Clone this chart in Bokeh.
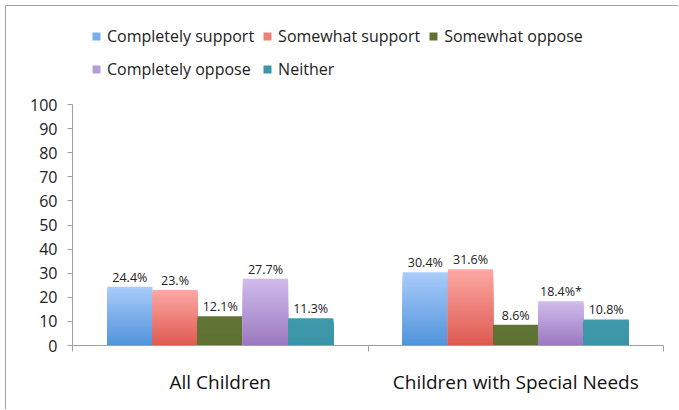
from bokeh.plotting import figure
from bokeh.models import ColumnDataSource, Legend, LegendItem, FixedTicker, Range1d, LabelSet
from bokeh.core.properties import value
from bokeh.embed import file_html
from bokeh.resources import INLINE

categories = ["All Children", "Children with Special Needs"]
series = ["Completely support", "Somewhat support", "Somewhat oppose", "Completely oppose", "Neither"]
completely_support = [24.4, 30.4]
somewhat_support = [23.0, 31.6]
somewhat_oppose = [12.1, 8.6]
completely_oppose = [27.7, 18.4]
neither = [11.3, 10.8]
labels_all = ["24.4%", "23.%", "12.1%", "27.7%", "11.3%"]
labels_special = ["30.4%", "31.6%", "8.6%", "18.4%*", "10.8%"]
y_ticks = list(range(0, 101, 10))

values = [completely_support, somewhat_support, somewhat_oppose, completely_oppose, neither]
# (top colour, bottom colour, legend colour)
colors = [
    ("#A9CCFB", "#5193DA", "#7BAEEB"),
    ("#FCA8A4", "#DE5A50", "#EE8078"),
    ("#627535", "#5E7132", "#5F7233"),
    ("#D0BCEC", "#9A79BF", "#B59CD8"),
    ("#3E9AAB", "#3A95A6", "#3B97A8"),
]

FONT = "Open Sans"
FIG_W, FIG_H = 673, 404
BORDER_BOTTOM = 65
AXIS_PX = 241  # pixel height of 0..100
y_end = 100 * (FIG_H - BORDER_BOTTOM) / AXIS_PX

p = figure(width=FIG_W, height=FIG_H, output_backend="svg", toolbar_location=None,
           x_range=Range1d(0, 2), y_range=Range1d(0, y_end),
           min_border_left=66, min_border_right=16, min_border_bottom=BORDER_BOTTOM,
           min_border_top=0)
p.styles = {"margin-left": "5px", "margin-top": "5px",
            "border-left": "1px solid #A0A0A0", "border-top": "1px solid #A0A0A0"}
p.outline_line_color = None
p.xgrid.visible = False
p.ygrid.visible = False

def hex2rgb(h):
    h = h.lstrip("#")
    return tuple(int(h[i:i + 2], 16) for i in (0, 2, 4))

def mix(c1, c2, t):
    a, b = hex2rgb(c1), hex2rgb(c2)
    return "#%02x%02x%02x" % tuple(round(a[i] + (b[i] - a[i]) * t) for i in range(3))

bar_w = 0.153
centers = [0.5, 1.5]
N = 30
legend_items = []
all_labels = [labels_all, labels_special]
lx, ly, lt = [], [], []
for i, (vals, (ctop, cbot, cleg)) in enumerate(zip(values, colors)):
    xs = [c + (i - 2) * bar_w for c in centers]
    for k in range(N):
        frac = (N - k) / N
        tops = [v * frac for v in vals]
        col = mix(cbot, ctop, frac - 0.5 / N)
        p.vbar(x=xs, bottom=0, top=tops, width=bar_w, fill_color=col, line_color=None)
    r = p.vbar(x=[-5], bottom=0, top=[1], width=bar_w, fill_color=cleg, line_color=None)
    legend_items.append(LegendItem(label=series[i], renderers=[r]))
    for j in range(2):
        lx.append(xs[j])
        ly.append(vals[j])
        lt.append(all_labels[j][i])

src = ColumnDataSource(dict(x=lx, y=ly, t=lt))
p.add_layout(LabelSet(x="x", y="y", text="t", source=src, text_align="center",
                      text_baseline="bottom", y_offset=1, text_font=value(FONT),
                      text_font_size="12.5px", text_color="#222222"))

legend = Legend(items=legend_items, ncols=3, location=(19, 264), orientation="horizontal",
                label_text_font=FONT, label_text_font_size="16px", label_text_color="#222222",
                glyph_width=10, glyph_height=10, label_standoff=6, spacing=8,
                label_height=25, padding=5, margin=0, border_line_color=None,
                background_fill_alpha=0)
p.add_layout(legend, "center")

# axes
p.yaxis.ticker = FixedTicker(ticks=y_ticks)
p.yaxis.bounds = (0, 100)
p.yaxis.axis_line_color = "#A0A0A0"
p.yaxis.major_tick_line_color = "#A0A0A0"
p.yaxis.major_tick_in = 0
p.yaxis.major_tick_out = 5
p.yaxis.minor_tick_line_color = None
p.yaxis.major_label_text_font = FONT
p.yaxis.major_label_text_font_size = "16px"
p.yaxis.major_label_text_color = "#222222"
p.yaxis.major_label_standoff = 10

p.xaxis.ticker = FixedTicker(ticks=centers, minor_ticks=[0, 1, 2])
p.xaxis.major_label_overrides = {0.5: categories[0], 1.5: categories[1]}
p.xaxis.axis_line_color = "#A0A0A0"
p.xaxis.major_tick_line_color = None
p.xaxis.minor_tick_line_color = "#A0A0A0"
p.xaxis.minor_tick_in = 0
p.xaxis.minor_tick_out = 6
p.xaxis.major_label_text_font = FONT
p.xaxis.major_label_text_font_size = "19px"
p.xaxis.major_label_text_color = "#111111"
p.xaxis.major_label_standoff = 17

open("out.html", "w").write(file_html(p, INLINE))
